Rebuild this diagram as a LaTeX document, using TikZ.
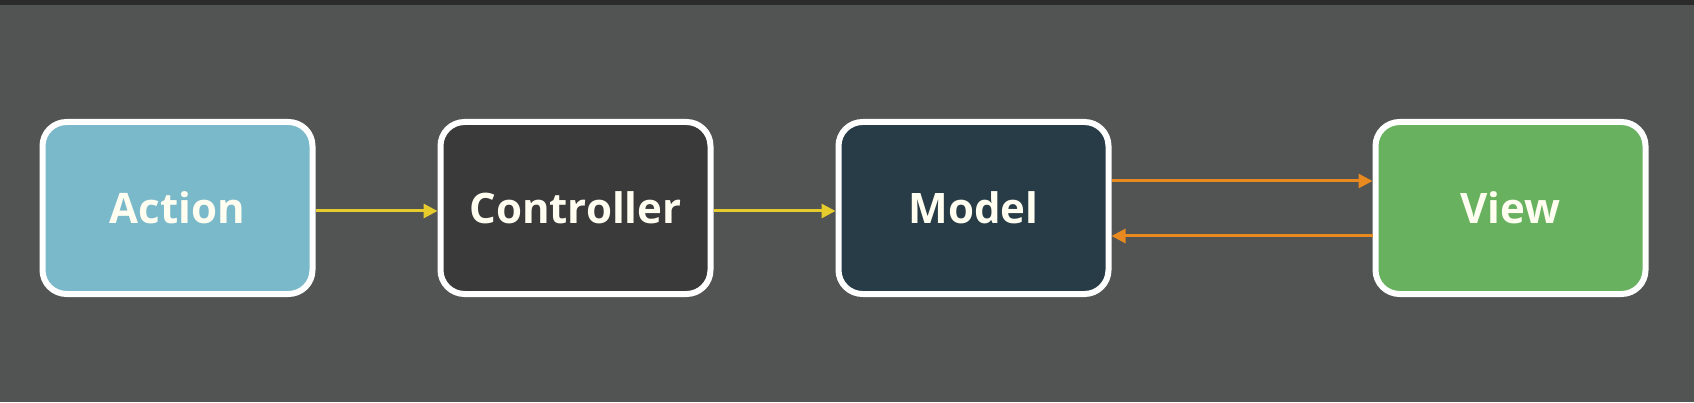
\documentclass[tikz,border=0pt]{standalone}
\usepackage{fontspec}
\setmainfont{Open Sans}
\usetikzlibrary{positioning,arrows.meta}

\definecolor{bgcol}{HTML}{525353}
\definecolor{barcol}{HTML}{2B2B2C}
\definecolor{actioncol}{HTML}{7AB9CA}
\definecolor{controlcol}{HTML}{3A3A3B}
\definecolor{modelcol}{HTML}{273C46}
\definecolor{viewcol}{HTML}{67B15F}
\definecolor{yellowcol}{HTML}{E6CB2C}
\definecolor{orangecol}{HTML}{E88A1F}

\tikzset{
	mvcpicture/.style = {
		x = 1pt,
		y = 1pt,
		node distance = 122pt,
		arrow/.style = {
			draw,
			->,
			>={Triangle[length=14pt,width=14pt]},
			line width = 3pt,
		}
	},
	mvcnode/.style = {
		rectangle,
		rounded corners = 24pt,
		draw = white,
		line width = 6pt,
		minimum width = 270pt,
		minimum height = 172pt,
		text = white!94!yellow,
		font = \fontsize{42}{50}\selectfont\bfseries
	},
	action/.style = {
		fill = actioncol
	},
	control/.style = {
		fill = controlcol
	},
	model/.style = {
		fill = modelcol
	},
	view/.style = {
		fill = viewcol
	},
	flow-arrow/.style = {
		draw = yellowcol
	},
	sync-arrow/.style = {
		draw = orangecol
	}
}

\begin{document}
\begin{tikzpicture}[mvcpicture]
	% background
	\fill[bgcol] (0,0) rectangle (1694,402);
	\fill[barcol] (0,397) rectangle (1694,402);
	\useasboundingbox (0,0) rectangle (1694,402);

	\node[mvcnode, action] (A) at (177.5,194) {Action};
	\node[mvcnode, control, right = of A] (C) {Controller};
	\node[mvcnode, model, right = of C] (M) {Model};
	\node[mvcnode, view, right = 261pt of M] (V) {View};

	\begin{scope}[every path/.style = arrow]
		\path[flow-arrow] ([yshift=-3pt]A.east) to ([yshift=-3pt]C.west);
		\path[flow-arrow] ([yshift=-3pt]C.east) to ([yshift=-3pt]M.west);

		\path[sync-arrow] ([yshift=27pt]M.east) to ([yshift=27pt]V.west);
		\path[sync-arrow] ([yshift=-28pt]V.west) to ([yshift=-28pt]M.east);
	\end{scope}
\end{tikzpicture}
\end{document}
